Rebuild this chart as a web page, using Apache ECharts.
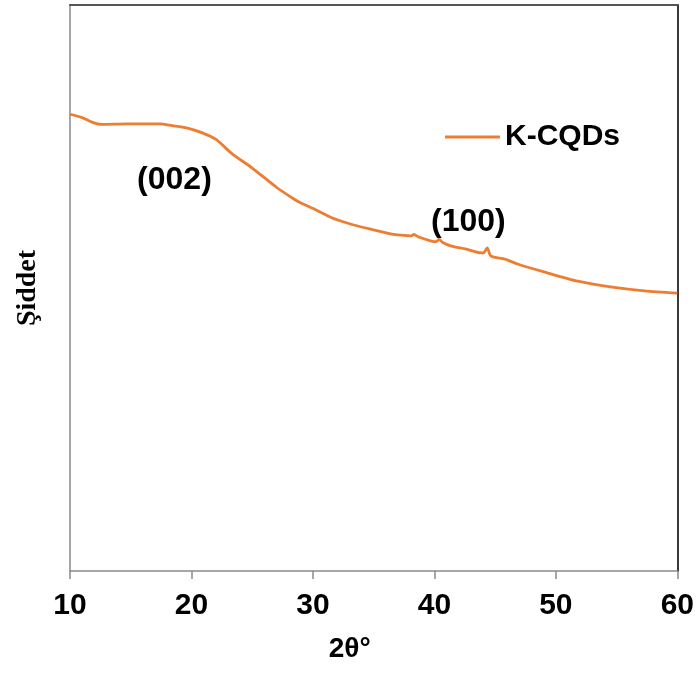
<!DOCTYPE html>
<html>
<head>
<meta charset="utf-8">
<script src="https://cdn.jsdelivr.net/npm/echarts@6/dist/echarts.min.js"></script>
<style>
  html, body { margin: 0; padding: 0; background: #ffffff; }
  #chart { width: 697px; height: 673px; }
</style>
</head>
<body>
<div id="chart"></div>
<script>
// XRD pattern of K-CQDs: diffraction angle (2θ, degrees) and relative intensity
const twoTheta = [
  10.0, 11.0, 11.8, 12.6, 14.7, 17.4, 18.4, 19.6, 20.9, 22.05, 23.35,
  25.0, 27.0, 28.3, 28.85, 30.25, 31.55, 32.95, 34.35, 36.5, 37.45,
  38.1, 38.3, 38.7, 39.75, 40.15, 40.4, 40.65, 41.4, 42.55, 43.85,
  44.1, 44.35, 44.65, 45.8, 46.9, 49.1, 51.8, 54.5, 57.3, 60.0
];
const intensity = [
  80.7, 80.1, 79.3, 78.9, 79.0, 79.0, 78.7, 78.3, 77.4, 76.2, 73.7,
  71.2, 67.8, 65.9, 65.2, 63.8, 62.4, 61.4, 60.6, 59.5, 59.3,
  59.2, 59.45, 59.0, 58.3, 58.2, 58.6, 58.1, 57.4, 56.9, 56.2,
  56.3, 57.1, 55.65, 55.1, 54.2, 52.8, 51.2, 50.2, 49.5, 49.1
];

// Axis ticks along 2θ
const xTicks = [10, 20, 30, 40, 50, 60];

// Reflection labels and where they sit (2θ, intensity)
const peakNames = ['(002)', '(100)'];
const peakX = [18.6, 42.8];
const peakY = [69.1, 61.7];

const seriesName = 'K-CQDs';
const sans = 'Liberation Sans, Arial, sans-serif';

const chart = echarts.init(document.getElementById('chart'));
chart.setOption({
  animation: false,
  backgroundColor: '#ffffff',
  grid: { left: 70, right: 17, top: 5, bottom: 102 },
  legend: {
    data: [seriesName],
    left: 440,
    top: 117,
    icon: 'rect',
    itemWidth: 55,
    itemHeight: 3,
    itemGap: 10,
    textStyle: { fontFamily: sans, fontSize: 30, fontWeight: 'bold', color: '#000000' }
  },
  xAxis: [
    {
      type: 'value',
      min: xTicks[0],
      max: xTicks[xTicks.length - 1],
      interval: 10,
      name: '2θ°',
      nameLocation: 'middle',
      nameGap: 64,
      nameTextStyle: {
        fontFamily: sans, fontSize: 28, fontWeight: 'bold', color: '#000000',
        padding: [0, 48, 0, 0]
      },
      axisLine: { show: true, lineStyle: { color: '#8a8a8a', width: 1.5 } },
      axisTick: { show: true, length: 8, lineStyle: { color: '#8a8a8a', width: 1.5 } },
      axisLabel: { margin: 20, fontFamily: sans, fontSize: 30, fontWeight: 'bold', color: '#000000' },
      splitLine: { show: false }
    },
    {
      type: 'value',
      position: 'top',
      min: xTicks[0],
      max: xTicks[xTicks.length - 1],
      axisLine: { show: true, onZero: false, lineStyle: { color: '#555555', width: 2 } },
      axisTick: { show: false },
      axisLabel: { show: false },
      splitLine: { show: false }
    }
  ],
  yAxis: [
    {
      type: 'value',
      min: 0,
      max: 100,
      name: 'Şiddet',
      nameLocation: 'middle',
      nameGap: 28,
      nameRotate: 90,
      nameTextStyle: {
        fontFamily: 'Liberation Serif, Times New Roman, serif',
        fontSize: 28,
        fontWeight: 'bold',
        color: '#000000'
      },
      axisLine: { show: true, lineStyle: { color: '#8a8a8a', width: 1.5 } },
      axisTick: { show: false },
      axisLabel: { show: false },
      splitLine: { show: false }
    },
    {
      type: 'value',
      position: 'right',
      min: 0,
      max: 100,
      axisLine: { show: true, onZero: false, lineStyle: { color: '#3a3a3a', width: 2 } },
      axisTick: { show: false },
      axisLabel: { show: false },
      splitLine: { show: false }
    }
  ],
  series: [
    {
      name: seriesName,
      type: 'line',
      data: twoTheta.map((x, i) => [x, intensity[i]]),
      showSymbol: false,
      symbol: 'none',
      smooth: 0.25,
      color: '#ED7D31',
      lineStyle: { color: '#ED7D31', width: 2.8 },
      markPoint: {
        symbol: 'circle',
        symbolSize: 0,
        label: {
          show: true,
          position: 'inside',
          formatter: '{b}',
          fontFamily: sans,
          fontSize: 32,
          fontWeight: 'bold',
          color: '#000000'
        },
        data: peakNames.map((n, i) => ({ name: n, coord: [peakX[i], peakY[i]] }))
      }
    }
  ]
});
</script>
</body>
</html>
